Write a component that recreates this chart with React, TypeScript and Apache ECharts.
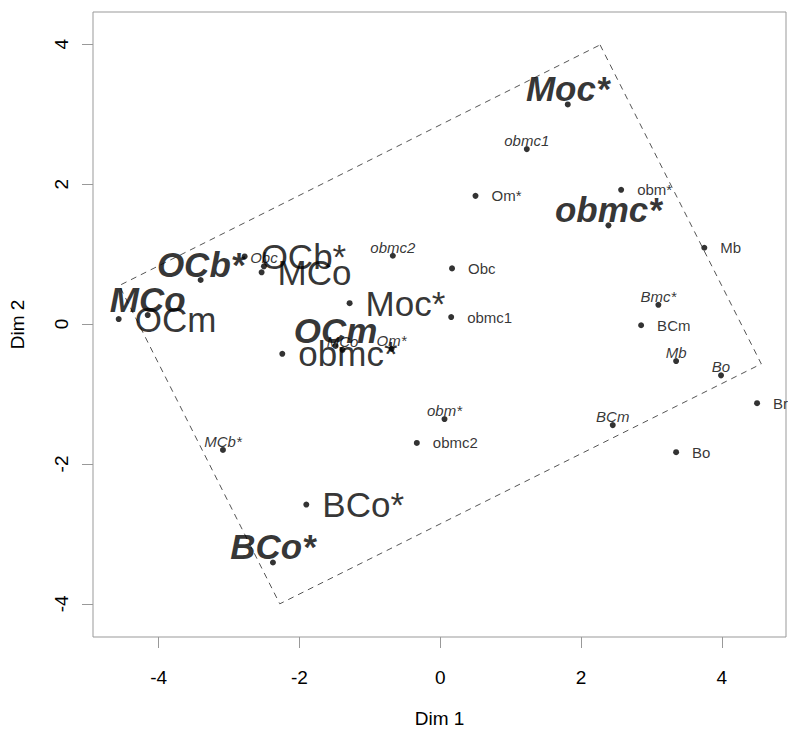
import React, { useEffect, useRef } from "react";
import * as echarts from "echarts";

// Axis ticks
const tickValues = [-4, -2, 0, 2, 4];
const xName = "Dim 1";
const yName = "Dim 2";

// Regular small labels (text to the right of the point)
const regSmallNames = ["Om*", "obm*", "Mb", "Obc", "obmc1", "BCm", "Br", "Bo", "obmc2"];
const regSmallX = [0.5, 2.569, 3.751, 0.167, 0.155, 2.853, 4.5, 3.35, -0.333];
const regSmallY = [1.832, 1.918, 1.09, 0.795, 0.099, -0.018, -1.132, -1.832, -1.7];

// Regular large labels (text to the right of the point)
const regLargeNames = ["OCb*", "MCo", "Moc*", "OCm", "obmc*", "BCo*"];
const regLargeX = [-2.779, -2.538, -1.288, -4.568, -2.244, -1.903];
const regLargeY = [0.966, 0.739, 0.298, 0.071, -0.426, -2.581];

// Bold italic large labels (text above the point)
const boldNames = ["Moc*", "obmc*", "OCb*", "MCo", "OCm", "BCo*"];
const boldX = [1.811, 2.389, -3.404, -4.156, -1.487, -2.377];
const boldY = [3.139, 1.41, 0.629, 0.128, -0.313, -3.409];

// Italic small labels (text above the point)
const italNames = ["obmc1", "obmc2", "Bmc*", "Mb", "Bo", "BCm", "obm*", "MCb*", "Obc", "MCo", "Om*"];
const italX = [1.229, -0.674, 3.098, 3.35, 3.988, 2.45, 0.06, -3.087, -2.505, -1.388, -0.692];
const italY = [2.5, 0.976, 0.274, -0.53, -0.734, -1.445, -1.359, -1.8, 0.824, -0.369, -0.355];

// Dashed rotated rectangle corners
const rectX = [2.27, 4.56, -2.28, -4.56, 2.27];
const rectY = [3.99, -0.57, -4.0, 0.55, 3.99];

const FONT = "'Liberation Sans', Arial, Helvetica, sans-serif";

function pts(names: string[], xs: number[], ys: number[]) {
  return names.map((n, i) => ({ name: n, value: [xs[i], ys[i]] }));
}

export default function App() {
  const ref = useRef<HTMLDivElement>(null);
  useEffect(() => {
    if (!ref.current) return;
    const chart = echarts.init(ref.current, null, { renderer: "svg" });
    const dot = { symbol: "circle", symbolSize: 6, itemStyle: { color: "#000" } };
    const axisCommon = {
      type: "value",
      splitLine: { show: false },
      axisLine: { show: false, onZero: false },
      nameLocation: "middle",
      nameMoveOverlap: false,
      nameTextStyle: { fontFamily: FONT, fontSize: 19, color: "#000" },
    };
    const tick = {
      show: true,
      inside: false,
      length: 11,
      customValues: tickValues,
      lineStyle: { color: "#999" },
    };
    chart.setOption({
      animation: false,
      backgroundColor: "#fff",
      grid: {
        left: 93,
        top: 12,
        width: 693,
        height: 629,
        show: true,
        borderColor: "#999",
        borderWidth: 1,
        backgroundColor: "transparent",
      },
      xAxis: {
        ...axisCommon,
        min: -4.933,
        max: 4.911,
        name: xName,
        nameGap: 72,
        axisTick: tick,
        axisLabel: {
          customValues: tickValues,
          margin: 31,
          fontFamily: FONT,
          fontSize: 19,
          color: "#000",
        },
      },
      yAxis: {
        ...axisCommon,
        min: -4.474,
        max: 4.46,
        name: yName,
        nameGap: 66,
        axisTick: tick,
        axisLabel: {
          customValues: tickValues,
          rotate: 90,
          margin: 22,
          fontFamily: FONT,
          fontSize: 19,
          color: "#000",
        },
      },
      series: [
        {
          type: "line",
          data: rectX.map((x, i) => [x, rectY[i]]),
          symbol: "none",
          lineStyle: { color: "#555", width: 1, type: [6, 5] },
          silent: true,
          z: 1,
        },
        {
          type: "scatter",
          ...dot,
          data: pts(regSmallNames, regSmallX, regSmallY),
          label: {
            show: true,
            formatter: "{b}",
            position: "right",
            distance: 13,
            fontFamily: FONT,
            fontSize: 15,
            color: "#000",
          },
        },
        {
          type: "scatter",
          ...dot,
          data: pts(regLargeNames, regLargeX, regLargeY),
          label: {
            show: true,
            formatter: "{b}",
            position: "right",
            distance: 13,
            fontFamily: FONT,
            fontSize: 35,
            color: "#000",
          },
        },
        {
          type: "scatter",
          ...dot,
          data: pts(boldNames, boldX, boldY),
          label: {
            show: true,
            formatter: "{b}",
            position: "top",
            distance: -5,
            fontFamily: FONT,
            fontSize: 35,
            fontWeight: "bold",
            fontStyle: "italic",
            color: "#000",
          },
        },
        {
          type: "scatter",
          ...dot,
          data: pts(italNames, italX, italY),
          label: {
            show: true,
            formatter: "{b}",
            position: "top",
            distance: -2,
            fontFamily: FONT,
            fontSize: 15,
            fontStyle: "italic",
            color: "#000",
          },
        },
      ],
    });
    return () => chart.dispose();
  }, []);
  return (
    <div
      ref={ref}
      style={{ position: "absolute", left: 0, top: 0, width: 788, height: 733 }}
    />
  );
}
